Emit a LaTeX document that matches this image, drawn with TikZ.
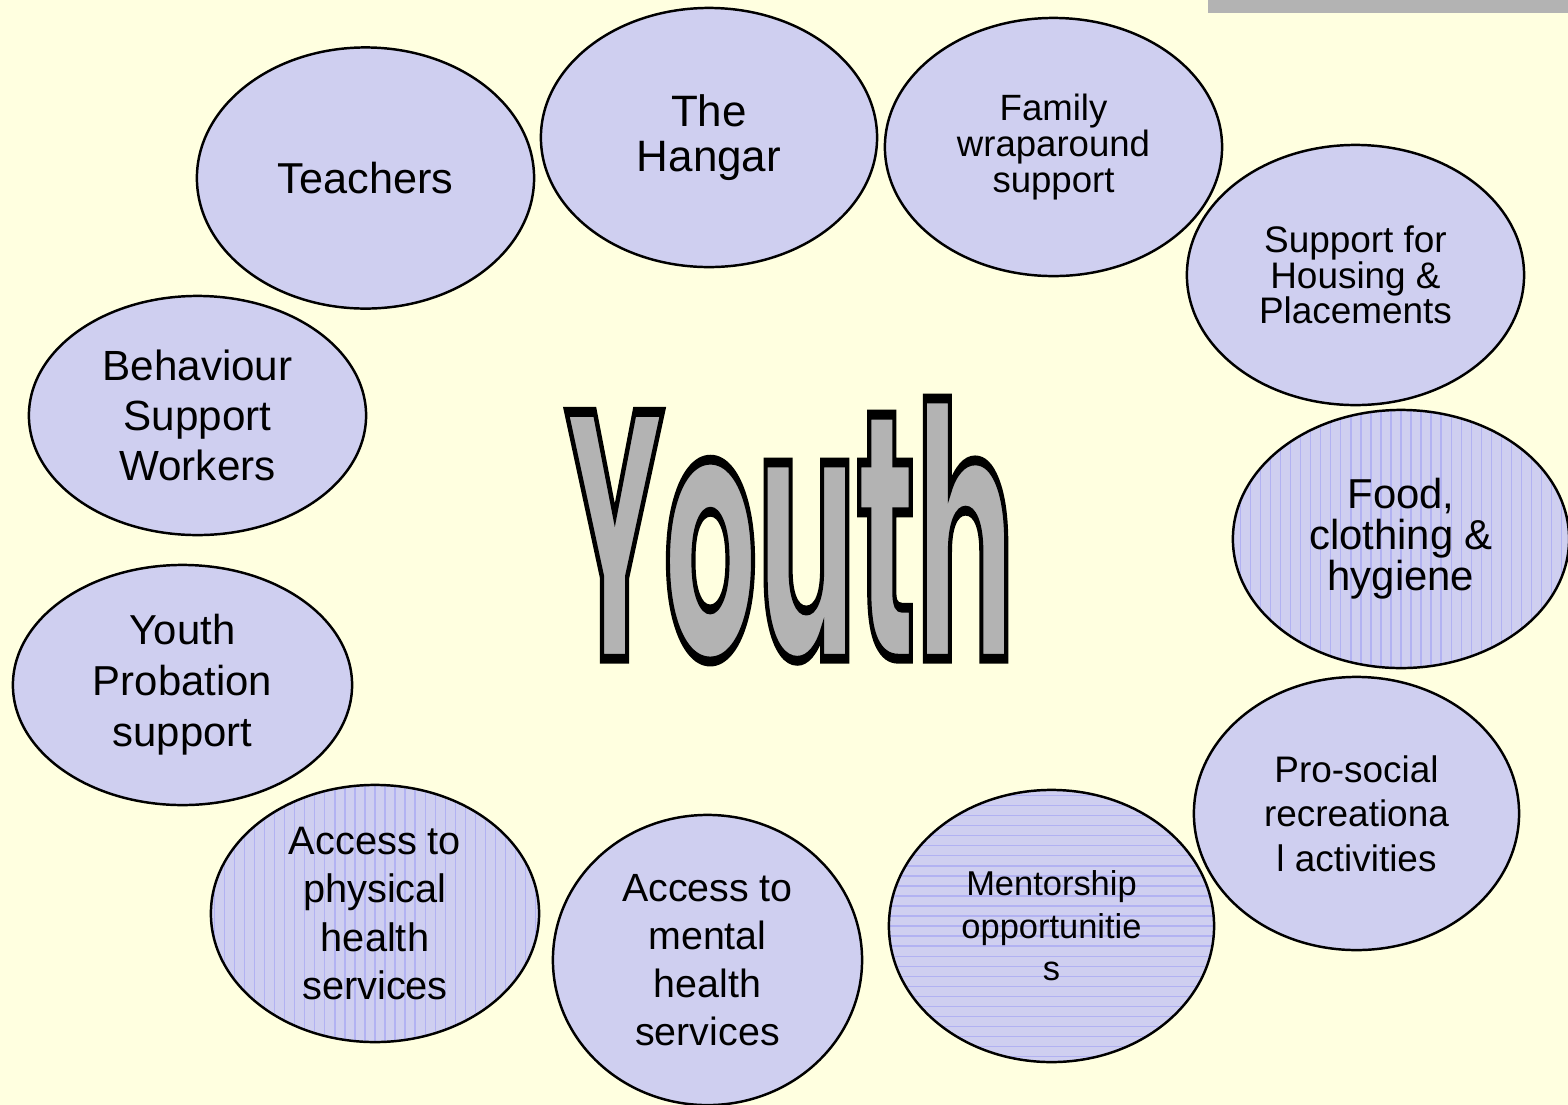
\documentclass[tikz,border=0pt]{standalone}
\usepackage{fontspec}
\setmainfont{Liberation Sans}
\newfontfamily\youthfont{Poppins}
\usetikzlibrary{shapes.geometric}

\definecolor{paper}{RGB}{255,255,224}
\definecolor{bubblefill}{RGB}{207,207,240}
\definecolor{stripe}{RGB}{178,178,242}
\definecolor{youthgrey}{RGB}{179,179,179}

\tikzset{
  bubble/.style={ellipse,draw=black,line width=0.7pt,fill=bubblefill,
    inner sep=0pt,align=center,text=black},
  vstripes/.style={path picture={
      \foreach \k in {-20,...,20}
        \draw[stripe,line width=0.3pt]
          ([xshift=\k*1mm]path picture bounding box.south) --
          ([xshift=\k*1mm]path picture bounding box.north);}},
  hstripes/.style={path picture={
      \foreach \k in {-16,...,16}
        \draw[stripe,line width=0.3pt]
          ([yshift=\k*1mm]path picture bounding box.west) --
          ([yshift=\k*1mm]path picture bounding box.east);}},
}
\newcommand\bubblefont[2]{\fontsize{#1}{#2}\selectfont}
% grey letters with a black outline (fill and stroke text mode)
\newcommand\outlined[1]{\special{pdf:code q 2 Tr 0.28 w 0 0 0 RG}#1\special{pdf:code Q}}

\begin{document}
\begin{tikzpicture}[x=0.01cm,y=-0.01cm]
  \fill[paper] (0,0) rectangle (1568,1105);
  \useasboundingbox (0,0) rectangle (1568,1105);
  \fill[youthgrey] (1208,0) rectangle (1568,13);

  % ring of services
  \node[bubble,minimum width=3.37cm,minimum height=2.39cm,font=\bubblefont{12}{14.2}]
    (behaviour) at (197.5,415.5) {Behaviour\\Support\\Workers};
  \node[bubble,minimum width=3.37cm,minimum height=2.61cm,font=\bubblefont{12.3}{14}]
    (teachers) at (365.5,178) {Teachers};
  \node[bubble,minimum width=3.36cm,minimum height=2.59cm,font=\bubblefont{12.5}{12.8}]
    (hangar) at (709,137.5) {The\\Hangar};
  \node[bubble,minimum width=3.37cm,minimum height=2.6cm,font=\bubblefont{10.5}{10.1}]
    (housing) at (1355.5,275) {Support for\\Housing \&\\Placements};
  \node[bubble,minimum width=3.37cm,minimum height=2.58cm,font=\bubblefont{10.4}{10.2}]
    (family) at (1053.5,147) {Family\\wraparound\\support};
  \node[bubble,vstripes,minimum width=3.36cm,minimum height=2.58cm,font=\bubblefont{11.9}{11.7}]
    (food) at (1401,539) {Food,\\clothing \&\\hygiene};
  \node[bubble,minimum width=3.25cm,minimum height=2.73cm,font=\bubblefont{10.5}{12.7}]
    (prosocial) at (1356.5,813.5) {Pro-social\\recreationa\\l activities};
  \node[bubble,hstripes,minimum width=3.25cm,minimum height=2.72cm,font=\bubblefont{9.8}{12.1}]
    (mentor) at (1051.5,926) {Mentorship\\opportunitie\\s};
  \node[bubble,minimum width=3.09cm,minimum height=2.9cm,font=\bubblefont{11.2}{13.7}]
    (mental) at (707.5,960) {Access to\\mental\\health\\services};
  \node[bubble,vstripes,minimum width=3.28cm,minimum height=2.57cm,font=\bubblefont{11.3}{13.7}]
    (physical) at (375,913.5) {Access to\\physical\\health\\services};
  \node[bubble,minimum width=3.39cm,minimum height=2.4cm,font=\bubblefont{11.9}{14.5}]
    (probation) at (182.5,685) {Youth\\Probation\\support};

  % centre word
  \node[inner sep=0pt] (youth) at (790,530)
    {\resizebox{4.49cm}{2.6cm}{\youthfont\bfseries\color{youthgrey}\outlined{Youth}}};
\end{tikzpicture}
\end{document}
